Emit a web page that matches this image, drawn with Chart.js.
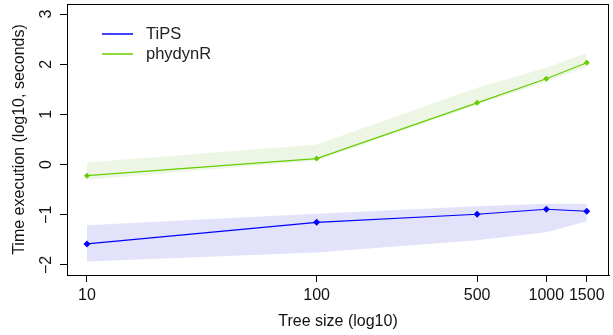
<!DOCTYPE html>
<html>
<head>
<meta charset="utf-8">
<script src="https://cdn.jsdelivr.net/npm/chart.js@4.4.1/dist/chart.umd.min.js"></script>
<style>
  body { margin: 0; background: #fff; }
  #wrap { width: 613px; height: 335px; position: relative; }
</style>
</head>
<body>
<div id="wrap"><canvas id="chart"></canvas></div>
<script>
// tree sizes (x, log scale) and tick labels
const treeSizes = [10, 100, 500, 1000, 1500];
const yTicks = [-2, -1, 0, 1, 2, 3];

// log10 execution time, mean and band limits
const tipsMean = [-1.58, -1.15, -0.99, -0.89, -0.93];
const tipsLow  = [-1.93, -1.75, -1.51, -1.35, -1.13];
const tipsHigh = [-1.21, -0.98, -0.83, -0.78, -0.78];

const phyMean = [-0.22, 0.12, 1.23, 1.71, 2.03];
const phyLow  = [-0.30, 0.08, 1.19, 1.65, 1.95];
const phyHigh = [0.04, 0.40, 1.53, 1.93, 2.23];

const seriesNames = ["TiPS", "phydynR"];
const lineColors = ["#0000ff", "#66cd00"];
const bandColors = ["#e2e2fb", "#edf6e4"];

const pts = arr => arr.map((v, i) => ({ x: treeSizes[i], y: v }));

const FONT = "'Liberation Sans', Arial, sans-serif";
Chart.defaults.font.family = FONT;
Chart.defaults.font.size = 16;
Chart.defaults.color = "#000";

function band(low, high, color) {
  return [
    { data: pts(low), borderWidth: 0, pointRadius: 0, fill: false, order: 3 },
    { data: pts(high), borderWidth: 0, pointRadius: 0, fill: "-1", backgroundColor: color, order: 3 }
  ];
}

function meanLine(values, name, color, r) {
  return {
    label: name, data: pts(values), borderColor: color, backgroundColor: color,
    borderWidth: 1.2, pointStyle: "rectRot", pointRadius: r, pointBorderWidth: 0,
    fill: false, order: 1, tension: 0
  };
}

// R-like extras: box around plot, rotated y labels, legend inside plot
const extras = {
  id: "extras",
  afterDraw(chart) {
    const ctx = chart.ctx;
    const a = chart.chartArea;
    ctx.save();
    ctx.strokeStyle = "#000";
    ctx.lineWidth = 1;
    ctx.strokeRect(Math.round(a.left) + 0.5, Math.round(a.top) + 0.5,
      Math.round(a.right - a.left) - 1, Math.round(a.bottom - a.top));

    const ys = chart.scales.y;
    ctx.fillStyle = "#111";
    ctx.font = "16px " + FONT;
    ctx.textAlign = "center";
    ctx.textBaseline = "middle";
    yTicks.forEach(v => {
      ctx.save();
      ctx.translate(47, ys.getPixelForValue(v));
      ctx.rotate(-Math.PI / 2);
      ctx.fillText(String(v).replace("-", "\u2212"), 0, 0);
      ctx.restore();
    });

    ctx.textAlign = "left";
    ctx.font = "16.5px " + FONT;
    seriesNames.forEach((name, i) => {
      const y = 34 + i * 20;
      ctx.strokeStyle = lineColors[i];
      ctx.lineWidth = 1.5;
      ctx.beginPath();
      ctx.moveTo(102, y);
      ctx.lineTo(133, y);
      ctx.stroke();
      ctx.fillStyle = "#222";
      ctx.fillText(name, 146, y);
    });
    ctx.restore();
  }
};

new Chart(document.getElementById("chart"), {
  type: "line",
  data: {
    datasets: [
      meanLine(tipsMean, seriesNames[0], lineColors[0], 3.5),
      meanLine(phyMean, seriesNames[1], lineColors[1], 3),
      ...band(tipsLow, tipsHigh, bandColors[0]),
      ...band(phyLow, phyHigh, bandColors[1])
    ]
  },
  options: {
    responsive: true,
    maintainAspectRatio: false,
    animation: false,
    layout: { padding: { top: 3, right: 1, left: 0, bottom: 0 } },
    plugins: {
      legend: { display: false },
      tooltip: { enabled: false }
    },
    scales: {
      x: {
        type: "logarithmic",
        min: 8.19,
        max: 1875,
        afterBuildTicks: s => { s.ticks = treeSizes.map(v => ({ value: v })); },
        afterFit: s => { s.height = 60; },
        ticks: { callback: v => String(v), autoSkip: false, maxRotation: 0, padding: 4, color: "#111" },
        grid: { drawOnChartArea: false, tickLength: 7, color: "#000" },
        border: { display: true, color: "#000" },
        title: { display: true, text: "Tree size (log10)", color: "#111", padding: { top: 0, bottom: 4 } }
      },
      y: {
        min: -2.2,
        max: 3.2,
        afterBuildTicks: s => { s.ticks = yTicks.map(v => ({ value: v })); },
        afterFit: s => { s.width = 67; },
        ticks: { display: false },
        grid: { drawOnChartArea: false, tickLength: 7, color: "#000" },
        border: { display: true, color: "#000" },
        title: { display: true, text: "Time execution (log10, seconds)", color: "#111", padding: { top: 10, bottom: 0 } }
      }
    }
  },
  plugins: [extras]
});
</script>
</body>
</html>
